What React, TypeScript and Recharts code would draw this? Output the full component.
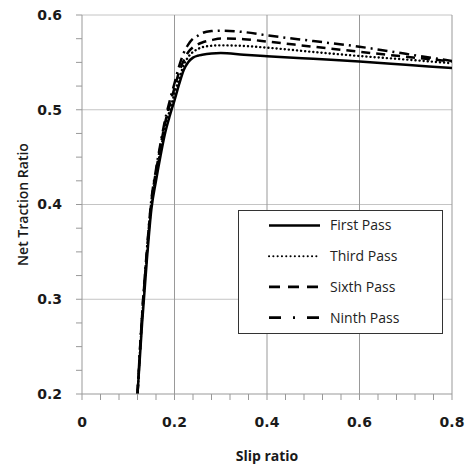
import { Line, LineChart, ReferenceLine, XAxis, YAxis } from 'recharts'

const slip = [
  0.12, 0.13, 0.14, 0.15, 0.16, 0.17, 0.18, 0.19, 0.2, 0.21, 0.22, 0.23, 0.24,
  0.25, 0.26, 0.28, 0.3, 0.35, 0.4, 0.5, 0.6, 0.7, 0.8
]

const firstPass = [
  0.2, 0.275, 0.34, 0.395, 0.425, 0.452, 0.476, 0.494, 0.51, 0.527, 0.542,
  0.5505, 0.555, 0.557, 0.558, 0.5593, 0.5598, 0.558, 0.5565, 0.5537, 0.551,
  0.5475, 0.544
]

const thirdPass = [
  0.2, 0.28, 0.345, 0.4, 0.431, 0.458, 0.482, 0.5, 0.517, 0.533, 0.547, 0.556,
  0.561, 0.564, 0.566, 0.5675, 0.568, 0.5673, 0.5655, 0.561, 0.5567, 0.553,
  0.549
]

const sixthPass = [
  0.2, 0.283, 0.348, 0.403, 0.435, 0.462, 0.487, 0.506, 0.523, 0.54, 0.552,
  0.561, 0.566, 0.569, 0.571, 0.5735, 0.5752, 0.5745, 0.572, 0.5665, 0.5612,
  0.556, 0.551
]

const ninthPass = [
  0.2, 0.285, 0.35, 0.405, 0.437, 0.465, 0.49, 0.51, 0.528, 0.546, 0.56, 0.569,
  0.575, 0.578, 0.581, 0.583, 0.5835, 0.582, 0.5785, 0.5725, 0.5665, 0.559,
  0.5515
]

const seriesNames = ['First Pass', 'Third Pass', 'Sixth Pass', 'Ninth Pass']

const xTicks = [
  0, 0.04, 0.08, 0.12, 0.16, 0.2, 0.24, 0.28, 0.32, 0.36, 0.4, 0.44, 0.48,
  0.52, 0.56, 0.6, 0.64, 0.68, 0.72, 0.76, 0.8
]
const xLabels = [0, 0.2, 0.4, 0.6, 0.8]

const yTicks = [
  0.2, 0.225, 0.25, 0.275, 0.3, 0.325, 0.35, 0.375, 0.4, 0.425, 0.45, 0.475,
  0.5, 0.525, 0.55, 0.575, 0.6
]
const yLabels = [0.2, 0.3, 0.4, 0.5, 0.6]

const hGrid = [0.3, 0.4, 0.5, 0.6]
const vGrid = [0.2, 0.4, 0.6, 0.8]

const data = slip.map((s, i) => ({
  slip: s,
  first: firstPass[i],
  third: thirdPass[i],
  sixth: sixthPass[i],
  ninth: ninthPass[i]
}))

const lineStyles = [
  { key: 'first', dash: undefined, width: 2.5, cap: 'butt' },
  { key: 'third', dash: '0.1 4', width: 2.4, cap: 'round' },
  { key: 'sixth', dash: '9 6', width: 2.5, cap: 'butt' },
  { key: 'ninth', dash: '10 5 2 5', width: 2.5, cap: 'butt' }
]

const legendDash = [undefined, '0.1 4.2', '11 8', '12 12 2 12']

const pick = (labels: number[]) => (v: number) => {
  const hit = labels.find((l) => Math.abs(l - v) < 1e-6)
  return hit === undefined ? '' : String(hit)
}

const tickFont = {
  fontFamily: 'DejaVu Sans',
  fontSize: 14,
  fontWeight: 'bold' as const,
  fill: '#1a1a1a'
}

// legend box drawn by hand, Recharts' Legend would shrink the plot area
function PassLegend() {
  return (
    <svg width={205} height={124} style={{ display: 'block' }}>
      <rect x={0.5} y={0.5} width={204} height={123} fill="#fff" stroke="#333" />
      {seriesNames.map((name, i) => {
        const y = 15.5 + i * 30.7
        return (
          <g key={name}>
            <line
              x1={31}
              x2={82}
              y1={y}
              y2={y}
              stroke="#000"
              strokeWidth={i === 1 ? 2 : 2.7}
              strokeDasharray={legendDash[i]}
              strokeLinecap={i === 1 ? 'round' : 'butt'}
            />
            <text
              x={92}
              y={y}
              dy="0.35em"
              fontFamily="Open Sans"
              fontSize={14}
              fill="#222"
            >
              {name}
            </text>
          </g>
        )
      })}
    </svg>
  )
}

export default function App() {
  return (
    <div
      style={{
        position: 'absolute',
        left: 0,
        top: 0,
        width: 467,
        height: 468,
        background: '#fff'
      }}
    >
      <LineChart
        width={467}
        height={468}
        data={data}
        margin={{ top: 15, right: 15, bottom: 0, left: 0 }}
      >
        {hGrid.map((v) => (
          <ReferenceLine key={'h' + v} y={v} stroke="#c4c4c4" strokeWidth={1} />
        ))}
        {vGrid.map((v) => (
          <ReferenceLine key={'v' + v} x={v} stroke="#999" strokeWidth={1} />
        ))}
        <XAxis
          dataKey="slip"
          type="number"
          domain={[0, 0.8]}
          ticks={xTicks}
          interval={0}
          height={74}
          tickSize={6}
          tickMargin={17}
          tickFormatter={pick(xLabels)}
          tick={tickFont}
          axisLine={{ stroke: '#999' }}
          tickLine={{ stroke: '#999' }}
          allowDataOverflow
          label={{
            value: 'Slip ratio',
            position: 'center',
            dy: 25,
            style: {
              fontFamily: 'Open Sans',
              fontSize: 14,
              fontWeight: 'bold',
              fill: '#1a1a1a'
            }
          }}
        />
        <YAxis
          type="number"
          domain={[0.2, 0.6]}
          ticks={yTicks}
          interval={0}
          width={82}
          tickSize={6}
          tickMargin={14}
          tickFormatter={pick(yLabels)}
          tick={tickFont}
          axisLine={{ stroke: '#999' }}
          tickLine={{ stroke: '#999' }}
          allowDataOverflow
          label={{
            value: 'Net Traction Ratio',
            angle: -90,
            position: 'center',
            dx: -18,
            style: {
              fontFamily: 'Open Sans',
              fontSize: 14,
              fontWeight: 600,
              fill: '#1a1a1a',
              textAnchor: 'middle'
            }
          }}
        />
        {lineStyles.map((s, i) => (
          <Line
            key={s.key}
            dataKey={s.key}
            name={seriesNames[i]}
            type="monotone"
            stroke="#000"
            strokeWidth={s.width}
            strokeDasharray={s.dash}
            strokeLinecap={s.cap as 'butt' | 'round'}
            dot={false}
            isAnimationActive={false}
          />
        ))}
      </LineChart>
      <div style={{ position: 'absolute', left: 238, top: 210 }}>
        <PassLegend />
      </div>
    </div>
  )
}
